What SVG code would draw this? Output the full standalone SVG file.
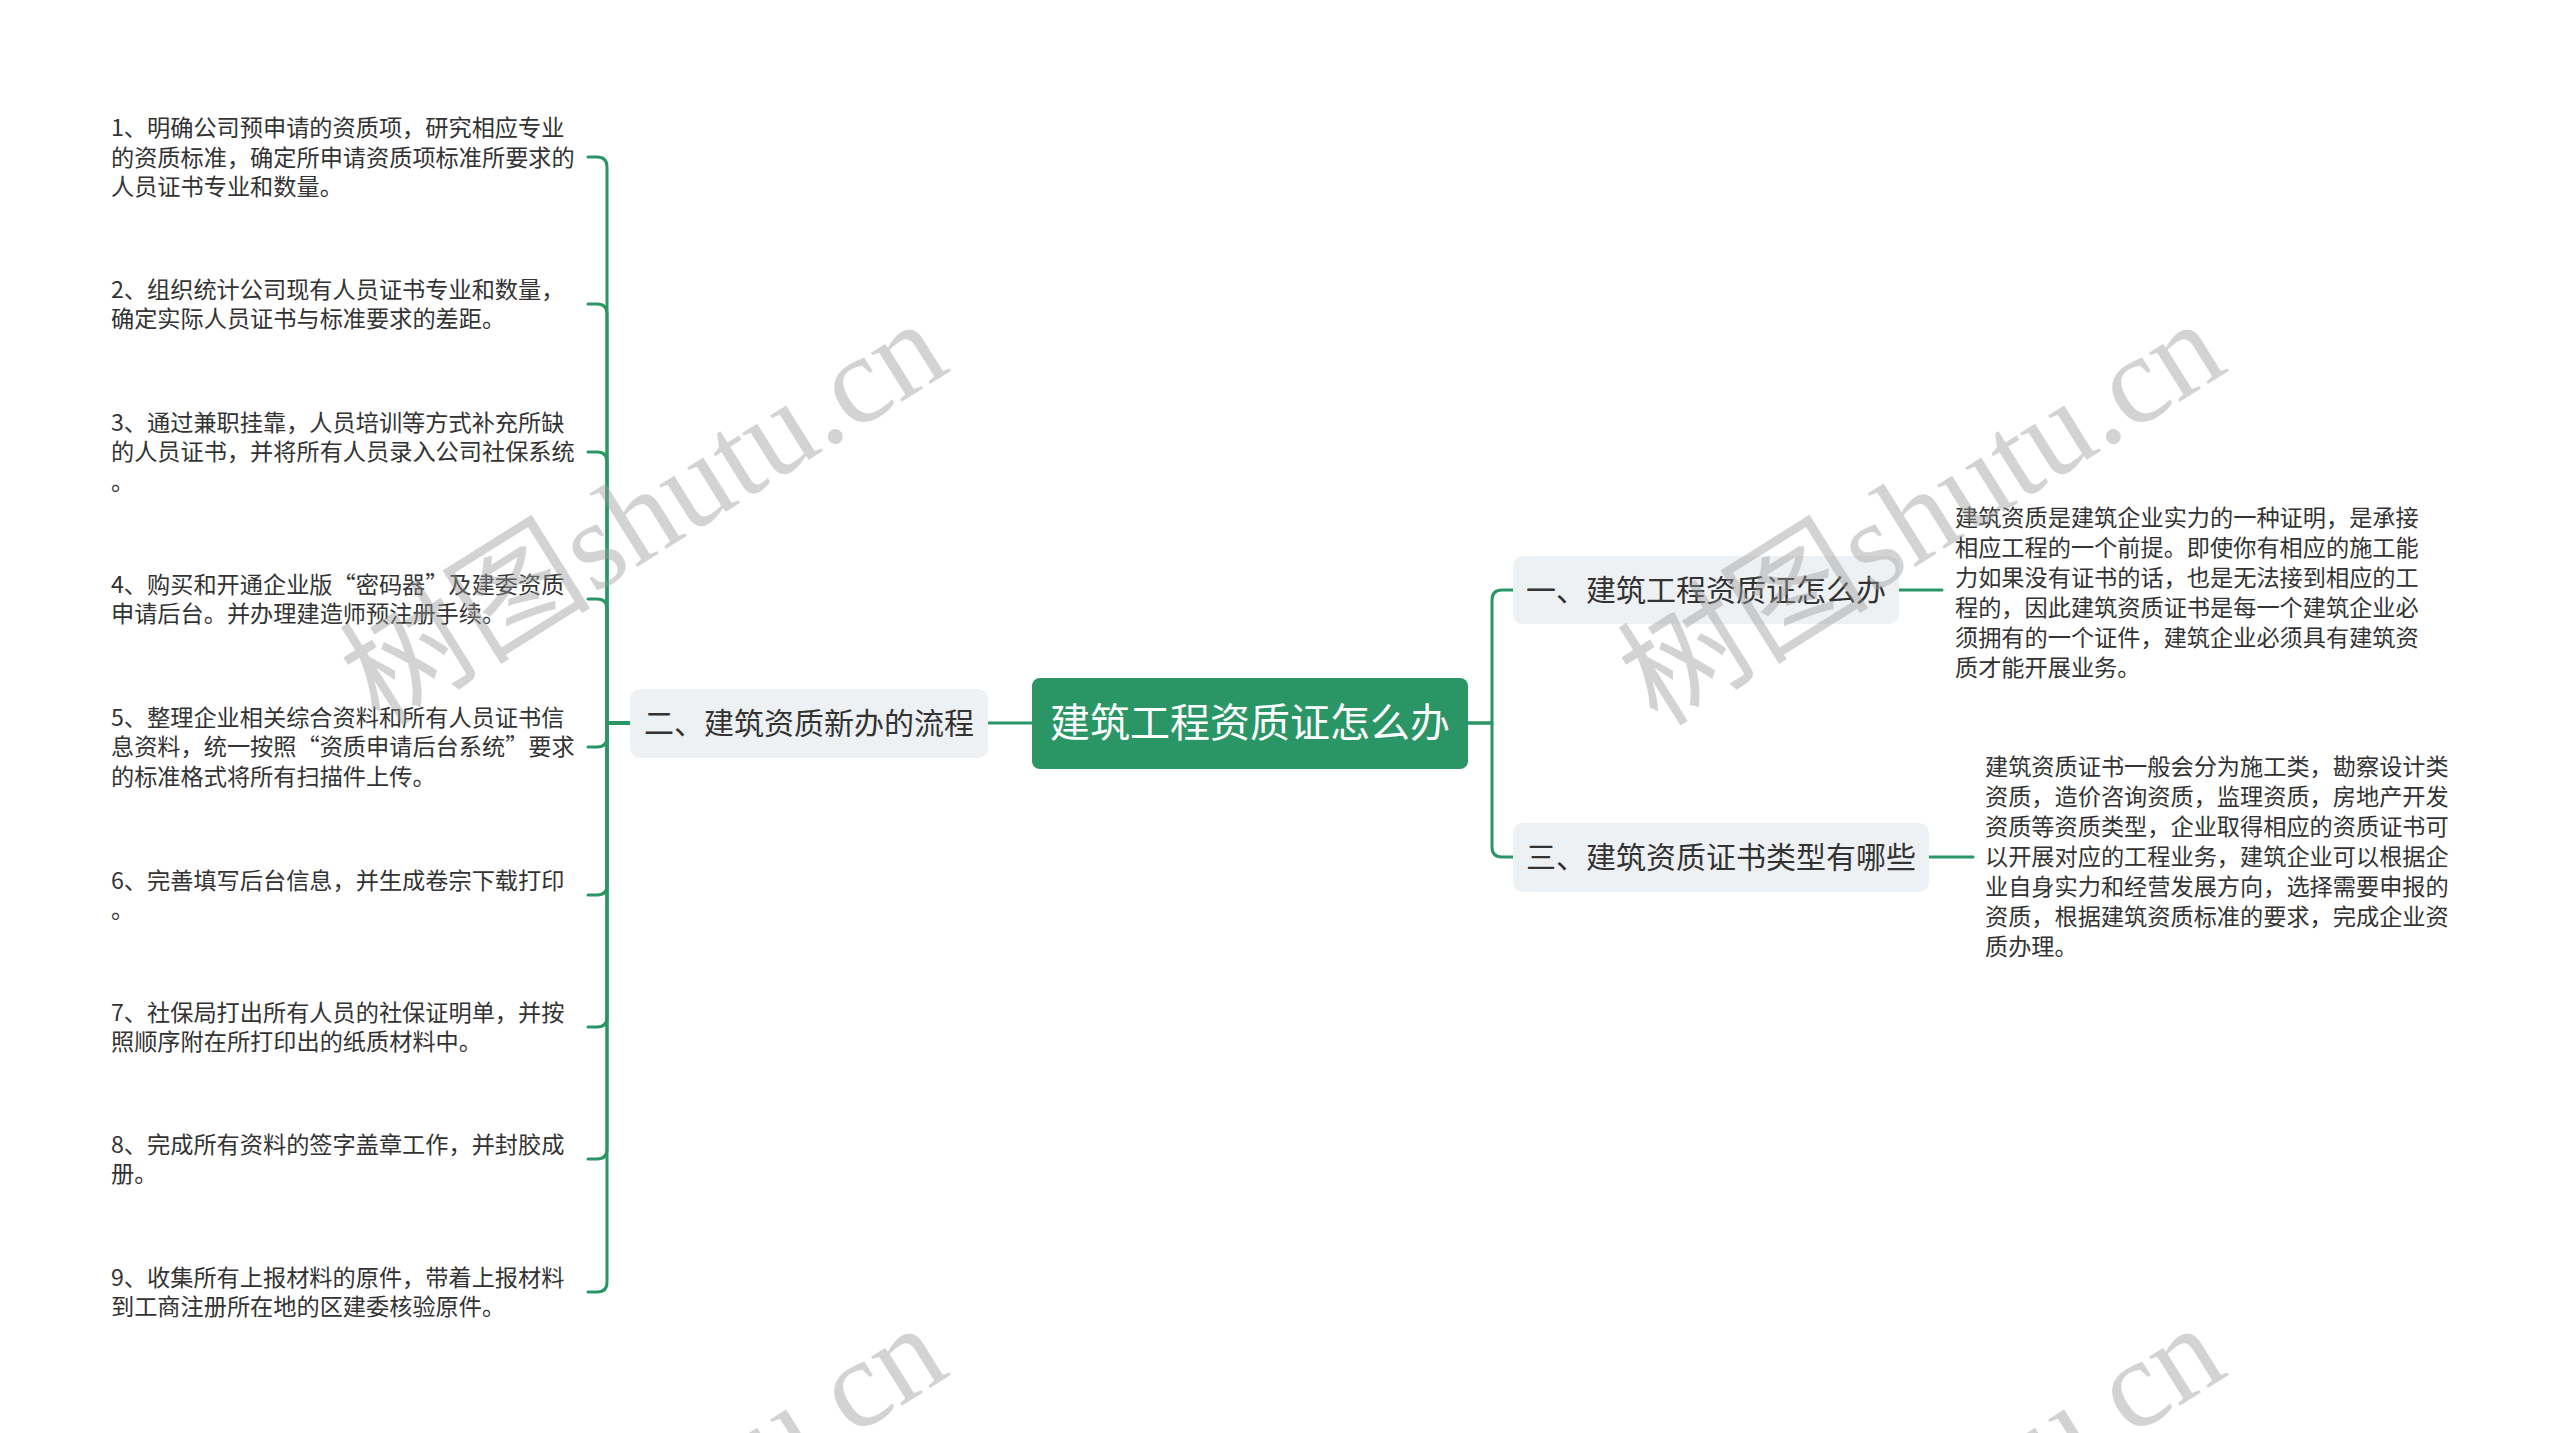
<svg xmlns="http://www.w3.org/2000/svg" width="2560" height="1433" viewBox="0 0 2560 1433">
<style>
.item{font-family:"Noto Sans CJK SC","Liberation Sans",sans-serif;font-size:23.2px;fill:#333333;}
.l1box{fill:#eef1f4;}
.l1txt{font-family:"Noto Sans CJK SC","Liberation Sans",sans-serif;font-size:30px;fill:#333333;}
.roottxt{font-family:"Noto Sans CJK SC","Liberation Sans",sans-serif;font-size:40px;fill:#ffffff;}
.conn{fill:none;stroke:#2a9565;stroke-width:3;stroke-linecap:round;stroke-linejoin:round;}
.wm{font-family:"Liberation Serif","Noto Sans CJK SC",serif;font-size:126px;fill:#999999;opacity:0.42;}
</style>
<rect width="2560" height="1433" fill="#ffffff"/>
<g id="connectors">
<path class="conn" d="M1032,723 H988"/>
<path class="conn" d="M630,723 H607 V167 Q607,157 597,157 H588"/>
<path class="conn" d="M630,723 H607 V314 Q607,304 597,304 H588"/>
<path class="conn" d="M630,723 H607 V462 Q607,452 597,452 H588"/>
<path class="conn" d="M630,723 H607 V609 Q607,599 597,599 H588"/>
<path class="conn" d="M630,723 H607 V737 Q607,747 597,747 H588"/>
<path class="conn" d="M630,723 H607 V885 Q607,895 597,895 H588"/>
<path class="conn" d="M630,723 H607 V1017 Q607,1027 597,1027 H588"/>
<path class="conn" d="M630,723 H607 V1149 Q607,1159 597,1159 H588"/>
<path class="conn" d="M630,723 H607 V1282 Q607,1292 597,1292 H588"/>
<path class="conn" d="M1468,723 H1492 V600 Q1492,590 1502,590 H1513"/>
<path class="conn" d="M1468,723 H1492 V847 Q1492,857 1502,857 H1513"/>
<path class="conn" d="M1899,590 H1942"/>
<path class="conn" d="M1929,857 H1973"/>
</g>
<g id="root">
<rect x="1032" y="678" width="436" height="91" rx="8" fill="#2a9565"/>
<text class="roottxt" x="1250" y="737" text-anchor="middle">建筑工程资质证怎么办</text>
</g>
<g id="node-2">
<rect class="l1box" x="630" y="689" width="358" height="69" rx="10"/>
<text class="l1txt" x="809" y="734" text-anchor="middle">二、建筑资质新办的流程</text>
</g>
<g id="node-1">
<rect class="l1box" x="1513" y="556" width="386" height="68" rx="10"/>
<text class="l1txt" x="1706" y="601" text-anchor="middle">一、建筑工程资质证怎么办</text>
</g>
<g id="node-3">
<rect class="l1box" x="1513" y="823" width="416" height="69" rx="10"/>
<text class="l1txt" x="1721" y="868" text-anchor="middle">三、建筑资质证书类型有哪些</text>
</g>
<g id="desc-1">
<text class="item" x="1955" y="526">
<tspan x="1955" y="526">建筑资质是建筑企业实力的一种证明，是承接</tspan>
<tspan x="1955" y="556">相应工程的一个前提。即使你有相应的施工能</tspan>
<tspan x="1955" y="586">力如果没有证书的话，也是无法接到相应的工</tspan>
<tspan x="1955" y="616">程的，因此建筑资质证书是每一个建筑企业必</tspan>
<tspan x="1955" y="646">须拥有的一个证件，建筑企业必须具有建筑资</tspan>
<tspan x="1955" y="676">质才能开展业务。</tspan>
</text>
</g>
<g id="desc-3">
<text class="item" x="1985" y="775">
<tspan x="1985" y="775">建筑资质证书一般会分为施工类，勘察设计类</tspan>
<tspan x="1985" y="805">资质，造价咨询资质，监理资质，房地产开发</tspan>
<tspan x="1985" y="835">资质等资质类型，企业取得相应的资质证书可</tspan>
<tspan x="1985" y="865">以开展对应的工程业务，建筑企业可以根据企</tspan>
<tspan x="1985" y="895">业自身实力和经营发展方向，选择需要申报的</tspan>
<tspan x="1985" y="925">资质，根据建筑资质标准的要求，完成企业资</tspan>
<tspan x="1985" y="955">质办理。</tspan>
</text>
</g>
<g id="item-1">
<text class="item"><tspan x="111" y="136">1、明确公司预申请的资质项，研究相应专业</tspan><tspan x="111" y="165.5">的资质标准，确定所申请资质项标准所要求的</tspan><tspan x="111" y="195">人员证书专业和数量。</tspan></text>
</g>
<g id="item-2">
<text class="item"><tspan x="111" y="297.5">2、组织统计公司现有人员证书专业和数量，</tspan><tspan x="111" y="327">确定实际人员证书与标准要求的差距。</tspan></text>
</g>
<g id="item-3">
<text class="item"><tspan x="111" y="430.5">3、通过兼职挂靠，人员培训等方式补充所缺</tspan><tspan x="111" y="460">的人员证书，并将所有人员录入公司社保系统</tspan><tspan x="111" y="489.5">。</tspan></text>
</g>
<g id="item-4">
<text class="item"><tspan x="111" y="592.5">4、购买和开通企业版“密码器”及建委资质</tspan><tspan x="111" y="622">申请后台。并办理建造师预注册手续。</tspan></text>
</g>
<g id="item-5">
<text class="item"><tspan x="111" y="725.5">5、整理企业相关综合资料和所有人员证书信</tspan><tspan x="111" y="755">息资料，统一按照“资质申请后台系统”要求</tspan><tspan x="111" y="784.5">的标准格式将所有扫描件上传。</tspan></text>
</g>
<g id="item-6">
<text class="item"><tspan x="111" y="888.5">6、完善填写后台信息，并生成卷宗下载打印</tspan><tspan x="111" y="918">。</tspan></text>
</g>
<g id="item-7">
<text class="item"><tspan x="111" y="1020.5">7、社保局打出所有人员的社保证明单，并按</tspan><tspan x="111" y="1050">照顺序附在所打印出的纸质材料中。</tspan></text>
</g>
<g id="item-8">
<text class="item"><tspan x="111" y="1152.5">8、完成所有资料的签字盖章工作，并封胶成</tspan><tspan x="111" y="1182">册。</tspan></text>
</g>
<g id="item-9">
<text class="item"><tspan x="111" y="1285.5">9、收集所有上报材料的原件，带着上报材料</tspan><tspan x="111" y="1315">到工商注册所在地的区建委核验原件。</tspan></text>
</g>
<g id="watermarks">
<text class="wm" x="645" y="555" text-anchor="middle" transform="rotate(-32 645 515)">树图shutu.cn</text>
<text class="wm" x="1923" y="555" text-anchor="middle" transform="rotate(-32 1923 515)">树图shutu.cn</text>
<text class="wm" x="645" y="1559" text-anchor="middle" transform="rotate(-32 645 1519)">树图shutu.cn</text>
<text class="wm" x="1923" y="1559" text-anchor="middle" transform="rotate(-32 1923 1519)">树图shutu.cn</text>
</g>
</svg>
